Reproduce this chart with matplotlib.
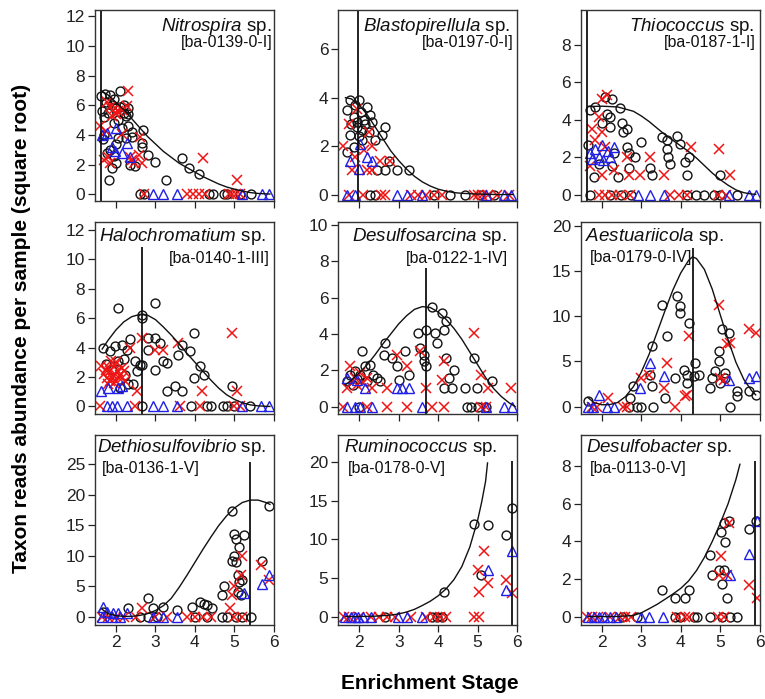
import numpy as np
import matplotlib.pyplot as plt

plt.rcParams['font.family'] = ['Liberation Sans', 'DejaVu Sans']
plt.rcParams['mathtext.fontset'] = 'custom'
plt.rcParams['mathtext.rm'] = 'Liberation Sans'
plt.rcParams['mathtext.it'] = 'Liberation Sans:italic'

BLACK = '#111111'
RED = '#f01515'
BLUE = '#1f1fe8'

# --- Nitrospira sp. [ba-0139-0-I] ---
nitro_circles = [(1.62, 6.6), (1.72, 6.8), (1.85, 6.7), (2.10, 7.0), (1.75, 6.2), (1.90, 6.0), (2.00, 5.8),
                 (2.20, 5.5), (2.25, 5.3), (1.80, 5.5), (1.70, 5.2), (2.05, 5.0), (2.15, 4.5), (2.31, 4.6),
                 (2.30, 5.4), (2.40, 3.9), (2.68, 4.35), (2.65, 3.45), (2.65, 3.2), (2.82, 2.65), (3.00, 2.2),
                 (3.27, 1.0), (3.67, 2.45), (3.84, 1.75), (4.10, 1.4), (1.82, 1.0), (1.89, 1.75), (2.00, 2.1),
                 (2.48, 1.9), (1.76, 2.8), (1.68, 3.7), (1.95, 6.4), (2.20, 6.0), (1.65, 5.6), (1.95, 4.8),
                 (2.25, 3.8), (2.00, 3.4), (1.95, 2.6), (2.35, 2.0), (1.70, 4.0), (2.10, 5.9), (2.30, 5.8),
                 (2.40, 4.2), (1.85, 3.0), (2.05, 3.8),
                 (2.61, 0), (2.72, 0), (4.35, 0), (4.45, 0), (4.73, 0), (4.80, 0), (5.15, 0), (5.41, 0)]
nitro_crosses = [(2.31, 6.95), (1.60, 4.6), (1.76, 6.2), (1.97, 5.8), (2.27, 5.95), (1.85, 2.1), (1.80, 2.55),
                 (2.58, 2.65), (2.60, 3.9), (2.65, 2.1), (2.40, 2.3), (1.97, 5.5), (4.20, 2.45), (5.07, 1.0),
                 (2.14, 4.1), (2.05, 5.6), (1.90, 5.3), (1.85, 5.9), (2.00, 5.4), (2.15, 5.7), (1.75, 4.3),
                 (2.35, 2.5), (2.45, 2.1), (1.70, 2.3),
                 (2.70, 0), (3.80, 0), (3.95, 0), (4.10, 0), (4.25, 0), (4.86, 0), (4.95, 0), (5.05, 0), (5.15, 0)]
nitro_triangles = [(1.64, 4.0), (1.76, 4.15), (2.00, 4.5), (1.89, 3.2), (1.97, 2.9), (2.27, 3.45), (2.36, 2.55),
                   (2.14, 2.8), (2.95, 0), (3.20, 0), (3.54, 0), (5.20, 0), (5.71, 0), (5.88, 0)]
nitro_curve_x = [1.62, 1.8, 2.0, 2.2, 2.4, 2.6, 2.8, 3.0, 3.2, 3.4, 3.6, 3.8, 4.0, 4.2, 4.4, 4.6, 4.8, 5.0,
                 5.2, 5.4, 5.6, 5.8, 5.9]
nitro_curve_y = [7.0, 6.7, 6.2, 5.7, 5.1, 4.5, 3.9, 3.4, 2.9, 2.5, 2.1, 1.8, 1.5, 1.2, 0.95, 0.7, 0.5, 0.35,
                 0.22, 0.12, 0.06, 0.03, 0.02]

# --- Blastopirellula sp. [ba-0197-0-I] ---
blasto_circles = [(1.77, 3.9), (2.00, 3.9), (1.69, 3.5), (2.19, 3.6), (1.86, 3.2), (2.11, 3.07), (1.94, 2.8),
                  (2.07, 2.65), (1.77, 2.45), (2.28, 3.27), (2.32, 3.0), (2.66, 2.8), (2.58, 2.45), (1.69, 1.75),
                  (1.86, 1.97), (2.07, 2.25), (2.41, 2.25), (2.66, 1.0), (2.96, 1.0), (3.25, 1.0), (2.45, 1.0),
                  (2.75, 1.4), (1.90, 3.7), (2.05, 3.4), (1.95, 3.0), (2.15, 2.9), (1.80, 2.9), (2.25, 2.6),
                  (2.00, 2.4), (2.28, 0), (2.40, 0), (3.89, 0), (4.31, 0), (4.69, 0), (5.07, 0), (5.42, 0)]
blasto_crosses = [(1.73, 2.9), (1.94, 3.55), (1.60, 2.0), (1.90, 1.55), (2.11, 1.83), (2.32, 2.0), (2.24, 2.6),
                  (2.53, 1.4), (1.81, 1.0), (2.19, 1.0), (2.32, 1.0), (2.79, 1.4),
                  (1.75, 0), (2.10, 0), (2.55, 0), (2.65, 0), (3.30, 0), (3.50, 0), (3.70, 0), (3.90, 0),
                  (4.10, 0), (4.90, 0), (5.00, 0), (5.10, 0), (5.25, 0), (5.50, 0), (5.80, 0)]
blasto_triangles = [(1.77, 1.4), (2.03, 2.1), (2.19, 1.55), (2.32, 1.4), (2.00, 1.07), (1.69, 0), (1.90, 0),
                    (2.96, 0), (3.21, 0), (3.59, 0), (5.20, 0), (5.67, 0), (5.84, 0)]
blasto_curve_x = [1.65, 1.8, 2.0, 2.2, 2.4, 2.6, 2.8, 3.0, 3.2, 3.4, 3.6, 3.8, 4.0, 4.2, 4.4, 4.6, 5.0, 5.5, 5.9]
blasto_curve_y = [4.0, 3.95, 3.7, 3.3, 2.8, 2.3, 1.8, 1.4, 1.05, 0.75, 0.52, 0.35, 0.22, 0.14, 0.08, 0.05,
                  0.02, 0.0, 0.0]

# --- Thiococcus sp. [ba-0187-1-I] ---
thio_circles = [(1.66, 2.63), (1.70, 4.5), (1.83, 4.7), (2.08, 5.2), (2.25, 5.1), (2.13, 4.3), (2.21, 4.15),
                (2.21, 3.6), (2.00, 3.8), (2.47, 4.6), (2.51, 3.8), (2.55, 3.35), (2.64, 3.5), (2.64, 2.55),
                (2.68, 2.2), (2.68, 1.4), (3.00, 2.8), (2.85, 2.0), (3.23, 1.4), (3.53, 3.1), (3.65, 2.9),
                (3.65, 2.45), (3.69, 2.0), (3.74, 1.65), (3.90, 3.15), (3.99, 2.7), (4.12, 1.75), (4.20, 2.0),
                (4.16, 1.03), (5.00, 1.03), (2.30, 2.2), (2.42, 0.95), (1.80, 0.95), (1.92, 1.65), (2.25, 1.5),
                (3.27, 1.03),
                (1.70, 0), (2.20, 0), (2.50, 0), (2.75, 0), (4.16, 0), (4.40, 0), (4.60, 0), (4.85, 0),
                (5.00, 0), (5.43, 0)]
thio_crosses = [(1.75, 3.5), (1.92, 4.15), (2.00, 5.1), (2.13, 5.3), (1.83, 2.9), (2.00, 3.35), (2.08, 2.55),
                (1.70, 1.5), (2.30, 1.3), (2.64, 2.0), (2.68, 1.03), (3.23, 2.0), (2.97, 1.03), (3.57, 1.03),
                (4.25, 2.55), (4.97, 2.45), (5.26, 1.03), (2.00, 1.03),
                (1.92, 0), (2.08, 0), (2.25, 0), (2.47, 0), (2.72, 0), (3.73, 0), (3.95, 0), (4.15, 0),
                (4.95, 0), (5.15, 0)]
thio_triangles = [(1.70, 2.2), (1.83, 2.45), (2.00, 2.63), (2.17, 2.35), (2.30, 2.55), (1.92, 2.0), (2.04, 1.83),
                  (1.75, 1.9), (2.21, 2.0), (2.93, 0), (3.23, 0), (3.57, 0), (5.22, 0), (5.73, 0), (5.90, 0)]
thio_curve_x = [1.65, 2.0, 2.4, 2.8, 3.0, 3.2, 3.4, 3.6, 3.8, 4.0, 4.2, 4.4, 4.6, 4.8, 5.0, 5.2, 5.4, 5.6,
                5.8, 5.9]
thio_curve_y = [4.7, 4.72, 4.68, 4.45, 4.2, 3.9, 3.55, 3.2, 2.9, 2.6, 2.3, 1.95, 1.55, 1.15, 0.8, 0.5, 0.25,
                0.1, 0.03, 0.01]

# --- Halochromatium sp. [ba-0140-1-III] ---
halo_circles = [(2.06, 6.7), (2.65, 6.24), (2.65, 6.0), (2.99, 7.0), (1.68, 4.0), (1.85, 3.75), (1.97, 4.1),
                (2.14, 4.2), (2.27, 3.85), (2.36, 4.55), (2.82, 4.65), (3.00, 4.65), (2.82, 3.85), (3.12, 4.3),
                (3.00, 2.5), (3.20, 3.07), (3.29, 2.96), (3.58, 3.5), (3.67, 4.2), (3.88, 3.75), (3.97, 5.0),
                (4.14, 2.73), (3.97, 1.94), (4.22, 2.17), (3.49, 1.38), (3.29, 1.04), (3.67, 1.04), (4.95, 1.38),
                (2.53, 2.4), (2.48, 3.07), (2.60, 2.85), (2.44, 1.5), (2.65, 2.85), (2.23, 2.17), (2.06, 3.07),
                (2.31, 1.5), (2.10, 1.27), (1.75, 2.9), (1.90, 2.5), (2.20, 3.2),
                (2.65, 0), (3.90, 0), (4.30, 0), (4.40, 0), (4.70, 0), (4.80, 0), (5.00, 0), (5.40, 0)]
halo_crosses = [(1.63, 2.73), (1.76, 1.94), (1.85, 2.4), (1.93, 2.17), (1.97, 2.85), (2.00, 1.72), (2.10, 2.17),
                (2.14, 2.62), (1.80, 1.5), (2.23, 1.72), (2.36, 3.98), (2.65, 4.65), (3.00, 3.85), (3.20, 3.85),
                (3.58, 4.3), (4.95, 5.0), (5.07, 1.04), (4.18, 1.04), (2.53, 1.04), (1.88, 3.1), (2.05, 2.0),
                (1.70, 2.2), (1.95, 1.6), (1.80, 2.7), (1.90, 1.9), (2.05, 2.4), (2.15, 1.9), (1.75, 2.5),
                (2.00, 3.0), (1.85, 1.7), (2.20, 2.4),
                (1.60, 0), (2.47, 0), (3.62, 0), (4.14, 0), (4.98, 0), (5.15, 0)]
halo_triangles = [(1.63, 1.04), (1.80, 1.27), (2.06, 1.27), (2.14, 1.38), (1.76, 0), (1.89, 0), (2.02, 0),
                  (2.27, 0), (2.95, 0), (3.20, 0), (3.54, 0), (5.20, 0), (5.67, 0), (5.88, 0)]
halo_curve_x = [1.65, 1.8, 2.0, 2.2, 2.4, 2.6, 2.8, 3.0, 3.2, 3.4, 3.6, 3.8, 4.0, 4.2, 4.4, 4.6, 4.8, 5.0,
                5.2, 5.4, 5.6, 5.8, 5.9]
halo_curve_y = [3.9, 4.5, 5.2, 5.75, 6.1, 6.25, 6.2, 5.9, 5.4, 4.85, 4.25, 3.6, 3.0, 2.4, 1.8, 1.25, 0.8,
                0.48, 0.25, 0.11, 0.04, 0.01, 0.0]

# --- Desulfosarcina sp. [ba-0122-1-IV] ---
dsarc_circles = [(1.69, 1.39), (1.77, 1.76), (1.90, 1.94), (2.03, 1.76), (2.15, 2.22), (2.28, 2.3), (2.07, 3.04),
                 (2.36, 1.76), (2.45, 1.58), (2.53, 1.39), (2.66, 3.5), (2.62, 2.86), (2.83, 2.67), (2.96, 2.22),
                 (3.17, 3.04), (3.25, 1.76), (3.00, 1.48), (3.50, 4.05), (3.55, 3.22), (3.64, 2.86), (3.68, 4.23),
                 (3.64, 2.49), (3.68, 2.22), (3.85, 5.5), (3.93, 4.05), (3.97, 3.5), (4.10, 5.15), (4.19, 4.69),
                 (4.14, 4.23), (4.19, 2.67), (4.27, 1.58), (4.40, 2.03), (4.14, 1.03), (4.35, 1.03), (4.69, 1.03),
                 (4.90, 2.67), (4.99, 1.03), (5.37, 1.39), (1.85, 1.2), (2.20, 1.4), (1.95, 1.5),
                 (2.00, 0), (4.72, 0), (4.84, 0), (5.00, 0), (5.20, 0)]
dsarc_crosses = [(1.77, 2.22), (1.69, 1.03), (1.90, 1.58), (2.03, 1.85), (2.19, 1.58), (2.32, 1.03), (2.70, 1.03),
                 (2.96, 2.86), (3.21, 2.22), (3.55, 3.04), (3.68, 1.03), (4.10, 1.48), (4.14, 2.49), (4.90, 4.05),
                 (5.08, 1.76), (5.25, 1.03), (5.84, 1.03), (1.95, 1.2), (2.10, 1.3),
                 (1.60, 0), (2.19, 0), (2.70, 0), (3.21, 0), (3.85, 0), (4.14, 0), (5.08, 0), (5.20, 0)]
dsarc_triangles = [(1.69, 1.58), (1.94, 1.48), (2.15, 1.03), (2.96, 1.03), (3.08, 1.03), (3.25, 1.03),
                   (1.69, 0), (1.90, 0), (2.03, 0), (2.32, 0), (3.59, 0), (5.20, 0), (5.67, 0), (5.88, 0)]
dsarc_curve_x = [1.65, 1.8, 2.0, 2.2, 2.4, 2.6, 2.8, 3.0, 3.2, 3.4, 3.6, 3.8, 4.0, 4.2, 4.4, 4.6, 4.8, 5.0,
                 5.2, 5.4, 5.6, 5.8, 5.95]
dsarc_curve_y = [1.2, 1.45, 1.85, 2.3, 2.85, 3.45, 4.0, 4.55, 5.0, 5.35, 5.5, 5.45, 5.2, 4.8, 4.3, 3.7, 3.0,
                 2.3, 1.6, 1.0, 0.55, 0.2, 0.0]

# --- Aestuariicola sp. [ba-0179-0-IV] ---
aest_circles = [(1.66, 0.6), (2.72, 1.0), (2.80, 2.26), (3.27, 6.7), (3.23, 3.55), (3.27, 2.26), (3.53, 11.3),
                (3.61, 1.0), (3.65, 7.8), (3.86, 3.2), (3.90, 12.2), (3.99, 11.1), (3.99, 10.4), (4.08, 4.1),
                (4.16, 3.55), (4.16, 2.6), (4.20, 9.3), (4.33, 3.4), (4.37, 4.85), (4.46, 3.55), (4.75, 2.07),
                (4.80, 3.2), (4.88, 3.9), (4.97, 6.15), (4.97, 5.0), (5.05, 8.55), (5.00, 2.6), (5.13, 3.2),
                (5.22, 8.2), (5.43, 1.15), (5.43, 1.7), (5.73, 1.7), (5.90, 1.33), (5.13, 3.7),
                (2.68, 0), (2.89, 0), (3.00, 0), (3.31, 0), (5.26, 0)]
aest_crosses = [(2.17, 0.96), (3.00, 3.2), (3.20, 3.55), (3.65, 4.85), (3.57, 2.07), (4.12, 1.15), (4.16, 1.33),
                (4.20, 7.8), (4.97, 11.3), (5.18, 6.9), (5.26, 7.1), (5.00, 3.2), (5.09, 3.0), (5.73, 8.55),
                (5.90, 8.2), (1.75, 0), (1.87, 0), (2.55, 0), (2.64, 0), (3.86, 0)]
aest_triangles = [(1.92, 1.33), (1.66, 0), (1.79, 0), (2.13, 0), (2.30, 0), (2.97, 2.07), (3.23, 4.85),
                  (3.57, 3.37), (5.22, 3.0), (5.73, 3.2), (5.90, 3.37)]
aest_curve_x = [1.65, 1.8, 2.0, 2.2, 2.4, 2.6, 2.8, 3.0, 3.2, 3.4, 3.6, 3.8, 4.0, 4.2, 4.3, 4.4, 4.6, 4.8,
                5.0, 5.2, 5.4, 5.6, 5.8, 5.9]
aest_curve_y = [1.0, 0.45, 0.2, 0.22, 0.45, 1.1, 2.2, 3.8, 5.8, 8.2, 10.6, 12.9, 14.8, 16.2, 16.6, 16.4,
                15.2, 13.0, 10.2, 7.4, 4.9, 3.0, 1.75, 1.3]

# --- Dethiosulfovibrio sp. [ba-0136-1-V] ---
dethio_circles = [(1.68, 0.8), (2.31, 1.35), (2.82, 3.0), (2.95, 1.35), (3.20, 1.6), (3.55, 1.1), (3.93, 1.6),
                  (4.14, 2.4), (4.22, 2.15), (4.31, 1.9), (4.44, 1.35), (4.73, 5.1), (4.69, 3.5), (4.95, 17.3),
                  (5.00, 13.5), (5.25, 13.4), (5.04, 12.7), (5.12, 11.4), (5.00, 10.0), (4.95, 9.2), (5.04, 8.9),
                  (5.08, 6.8), (5.12, 5.7), (5.08, 4.05), (5.20, 5.95), (5.16, 3.5), (5.71, 9.2), (5.88, 18.1),
                  (2.61, 0), (2.82, 0), (3.04, 0), (4.01, 0), (4.31, 0), (4.69, 0), (4.82, 0), (5.03, 0),
                  (5.20, 0), (5.41, 0)]
dethio_crosses = [(2.65, 1.35), (4.90, 1.35), (4.95, 3.5), (4.99, 5.1), (5.20, 10.0), (5.16, 6.8), (5.67, 8.4),
                  (5.88, 5.95), (4.99, 0), (5.20, 0), (1.65, 0), (1.80, 0), (2.00, 0), (2.20, 0), (2.50, 0),
                  (3.00, 0), (3.30, 0), (3.80, 0), (4.00, 0), (4.20, 0), (4.40, 0)]
dethio_triangles = [(1.68, 1.6), (1.76, 0.8), (1.93, 0.55), (2.06, 0.55), (2.27, 0.55), (5.24, 3.8), (5.71, 5.4),
                    (5.88, 6.8), (1.65, 0), (1.90, 0), (2.10, 0), (2.95, 0), (3.20, 0), (3.55, 0)]
dethio_curve_x = [1.65, 1.8, 2.0, 2.2, 2.4, 2.6, 2.8, 3.0, 3.2, 3.4, 3.6, 3.8, 4.0, 4.2, 4.4, 4.6, 4.8, 5.0,
                  5.2, 5.4, 5.6, 5.8, 5.9]
dethio_curve_y = [1.2, 0.5, 0.15, 0.05, 0.05, 0.2, 0.5, 1.0, 1.8, 3.0, 4.8, 6.8, 8.9, 11.0, 13.0, 14.9, 16.5,
                  17.8, 18.7, 19.1, 19.1, 18.7, 18.4]

# --- Ruminococcus sp. [ba-0178-0-V] ---
rumino_circles = [(4.14, 3.2), (4.91, 12.0), (5.25, 11.85), (5.08, 5.35), (5.71, 10.6), (5.86, 14.1),
                  (2.66, 0), (3.85, 0), (3.97, 0), (4.10, 0)]
rumino_crosses = [(5.00, 6.0), (5.04, 3.2), (5.16, 8.55), (5.25, 4.3), (5.71, 4.7), (5.88, 3.0), (4.91, 0),
                  (5.04, 0), (1.62, 0), (1.75, 0), (2.00, 0), (2.30, 0), (2.50, 0), (2.70, 0), (2.90, 0),
                  (3.30, 0), (3.70, 0), (3.90, 0), (4.05, 0), (4.20, 0)]
rumino_triangles = [(5.25, 6.0), (5.71, 3.4), (5.88, 8.45), (1.65, 0), (1.78, 0), (1.88, 0), (1.98, 0),
                    (2.10, 0), (2.30, 0), (2.98, 0), (3.22, 0), (3.60, 0)]
rumino_curve_x = [1.65, 2.0, 2.4, 2.8, 3.0, 3.2, 3.4, 3.6, 3.8, 4.0, 4.2, 4.4, 4.6, 4.8, 5.0, 5.1, 5.2, 5.25]
rumino_curve_y = [0.0, 0.02, 0.06, 0.2, 0.35, 0.6, 0.95, 1.45, 2.0, 2.7, 3.6, 4.8, 6.5, 9.0, 12.5, 14.8,
                  17.5, 19.9]

# --- Desulfobacter sp. [ba-0113-0-V] ---
dbact_circles = [(3.53, 1.41), (3.86, 0.97), (4.12, 0.97), (4.20, 1.41), (4.75, 3.3), (4.80, 2.2), (5.01, 4.48),
                 (5.09, 5.0), (5.22, 5.1), (5.13, 3.95), (4.97, 2.46), (5.09, 2.46), (5.05, 1.76), (5.18, 0.97),
                 (5.73, 4.66), (5.90, 5.1),
                 (2.51, 0), (2.89, 0), (3.86, 0), (3.99, 0), (4.33, 0), (4.42, 0), (4.75, 0), (5.05, 0),
                 (5.26, 0), (5.43, 0)]
dbact_crosses = [(5.01, 3.25), (4.97, 2.2), (5.18, 2.2), (5.22, 5.0), (5.73, 1.67), (5.94, 0.97),
                 (1.62, 0), (1.75, 0), (1.90, 0), (2.20, 0), (2.45, 0), (2.60, 0), (2.75, 0), (3.90, 0),
                 (4.10, 0), (4.20, 0), (4.95, 0), (5.09, 0)]
dbact_triangles = [(5.26, 2.2), (5.73, 3.34), (5.94, 5.1), (1.65, 0), (1.80, 0), (1.92, 0), (2.05, 0),
                   (2.20, 0), (2.35, 0), (3.00, 0), (3.20, 0), (3.55, 0)]
dbact_curve_x = [1.65, 2.0, 2.4, 2.8, 3.0, 3.2, 3.4, 3.6, 3.8, 4.0, 4.2, 4.4, 4.6, 4.8, 5.0, 5.2, 5.4, 5.5]
dbact_curve_y = [0.0, 0.0, 0.01, 0.06, 0.2, 0.42, 0.65, 0.92, 1.2, 1.5, 1.9, 2.45, 3.15, 4.0, 4.95, 6.0,
                 7.3, 8.1]

# optimum stage (vertical line) and its top end per taxon
optimum_x = [1.61, 1.98, 1.63, 2.65, 3.68, 4.30, 5.40, 5.86, 5.88]
optimum_top = [12.4, 7.6, 9.83, 10.8, 7.6, 17.6, 25.4, 20.1, 8.26]

genera = ['Nitrospira', 'Blastopirellula', 'Thiococcus', 'Halochromatium', 'Desulfosarcina',
          'Aestuariicola', 'Dethiosulfovibrio', 'Ruminococcus', 'Desulfobacter']
tags = ['[ba-0139-0-I]', '[ba-0197-0-I]', '[ba-0187-1-I]', '[ba-0140-1-III]', '[ba-0122-1-IV]',
        '[ba-0179-0-IV]', '[ba-0136-1-V]', '[ba-0178-0-V]', '[ba-0113-0-V]']
ylims = [(-0.47, 12.4), (-0.28, 7.6), (-0.36, 9.83), (-0.5, 12.56), (-0.4, 10.18), (-0.8, 20.5),
         (-1.35, 29.8), (-1.07, 23.55), (-0.44, 9.67)]
yticks = [range(0, 13, 2), range(0, 7, 2), range(0, 9, 2), range(0, 13, 2), range(0, 11, 2),
          range(0, 21, 5), range(0, 26, 5), range(0, 21, 5), range(0, 9, 2)]

circles = [nitro_circles, blasto_circles, thio_circles, halo_circles, dsarc_circles, aest_circles,
           dethio_circles, rumino_circles, dbact_circles]
crosses = [nitro_crosses, blasto_crosses, thio_crosses, halo_crosses, dsarc_crosses, aest_crosses,
           dethio_crosses, rumino_crosses, dbact_crosses]
triangles = [nitro_triangles, blasto_triangles, thio_triangles, halo_triangles, dsarc_triangles,
             aest_triangles, dethio_triangles, rumino_triangles, dbact_triangles]
curves = [(nitro_curve_x, nitro_curve_y), (blasto_curve_x, blasto_curve_y), (thio_curve_x, thio_curve_y),
          (halo_curve_x, halo_curve_y), (dsarc_curve_x, dsarc_curve_y), (aest_curve_x, aest_curve_y),
          (dethio_curve_x, dethio_curve_y), (rumino_curve_x, rumino_curve_y), (dbact_curve_x, dbact_curve_y)]

# label placement in axes fraction: name (x, y, ha), tag (x, y, ha)
name_pos = [(0.99, 0.895, 'right'), (0.14, 0.895, 'left'), (0.27, 0.895, 'left'), (0.024, 0.897, 'left'),
            (0.076, 0.897, 'left'), (0.022, 0.90, 'left'), (0.013, 0.912, 'left'), (0.03, 0.912, 'left'),
            (0.03, 0.912, 'left')]
tag_pos = [(0.995, 0.808, 'right'), (0.978, 0.808, 'right'), (0.98, 0.808, 'right'),
           (0.978, 0.786, 'right'), (0.95, 0.786, 'right'), (0.05, 0.79, 'left'),
           (0.037, 0.80, 'left'), (0.056, 0.80, 'left'), (0.05, 0.80, 'left')]

fig = plt.figure(figsize=(7.65, 6.99), dpi=100)
col_left = [0.124, 0.442, 0.759]
col_w = 0.234
row_bottom = [0.712, 0.408, 0.106]
row_h = [0.273, 0.275, 0.272]

for i in range(9):
    r, c = divmod(i, 3)
    ax = fig.add_axes([col_left[c], row_bottom[r], col_w, row_h[r]])

    pts = np.array(circles[i])
    ax.plot(pts[:, 0], pts[:, 1], 'o', ms=6.4, mfc='none', mec=BLACK, mew=1.0)
    pts = np.array(crosses[i])
    ax.plot(pts[:, 0], pts[:, 1], 'x', ms=6.5, color=RED, mew=1.1)
    pts = np.array(triangles[i])
    ax.plot(pts[:, 0], pts[:, 1], '^', ms=7, mfc='none', mec=BLUE, mew=1.0)

    cx, cy = curves[i]
    ax.plot(cx, cy, color=BLACK, lw=1.0)
    ax.vlines(optimum_x[i], ylims[i][0], optimum_top[i], color=BLACK, lw=1.3)

    ax.set_xlim(1.465, 6.0)
    ax.set_ylim(*ylims[i])
    ax.set_xticks([2, 3, 4, 5, 6])
    ax.set_yticks(list(yticks[i]))
    ax.tick_params(direction='out', length=5, width=0.9, labelsize=12.5, pad=2, colors='#222222')
    if r < 2:
        ax.set_xticklabels([])
    for s in ax.spines.values():
        s.set_linewidth(1.0)
        s.set_color('#333333')

    nx, ny, nha = name_pos[i]
    ax.text(nx, ny, r'$\mathit{' + genera[i] + r'}$ sp.', transform=ax.transAxes, fontsize=13.5,
            ha=nha, va='baseline', clip_on=True, color='#111111')
    tx, ty, tha = tag_pos[i]
    ax.text(tx, ty, tags[i], transform=ax.transAxes, fontsize=11.5, ha=tha, va='baseline',
            color='#111111')

fig.text(0.028, 0.53, 'Taxon reads abundance per sample (square root)', rotation=90,
         ha='center', va='center', fontsize=15, fontweight='bold')
fig.text(0.562, 0.022, 'Enrichment Stage', ha='center', va='center', fontsize=15, fontweight='bold')

fig.savefig('out.png', dpi=100)
